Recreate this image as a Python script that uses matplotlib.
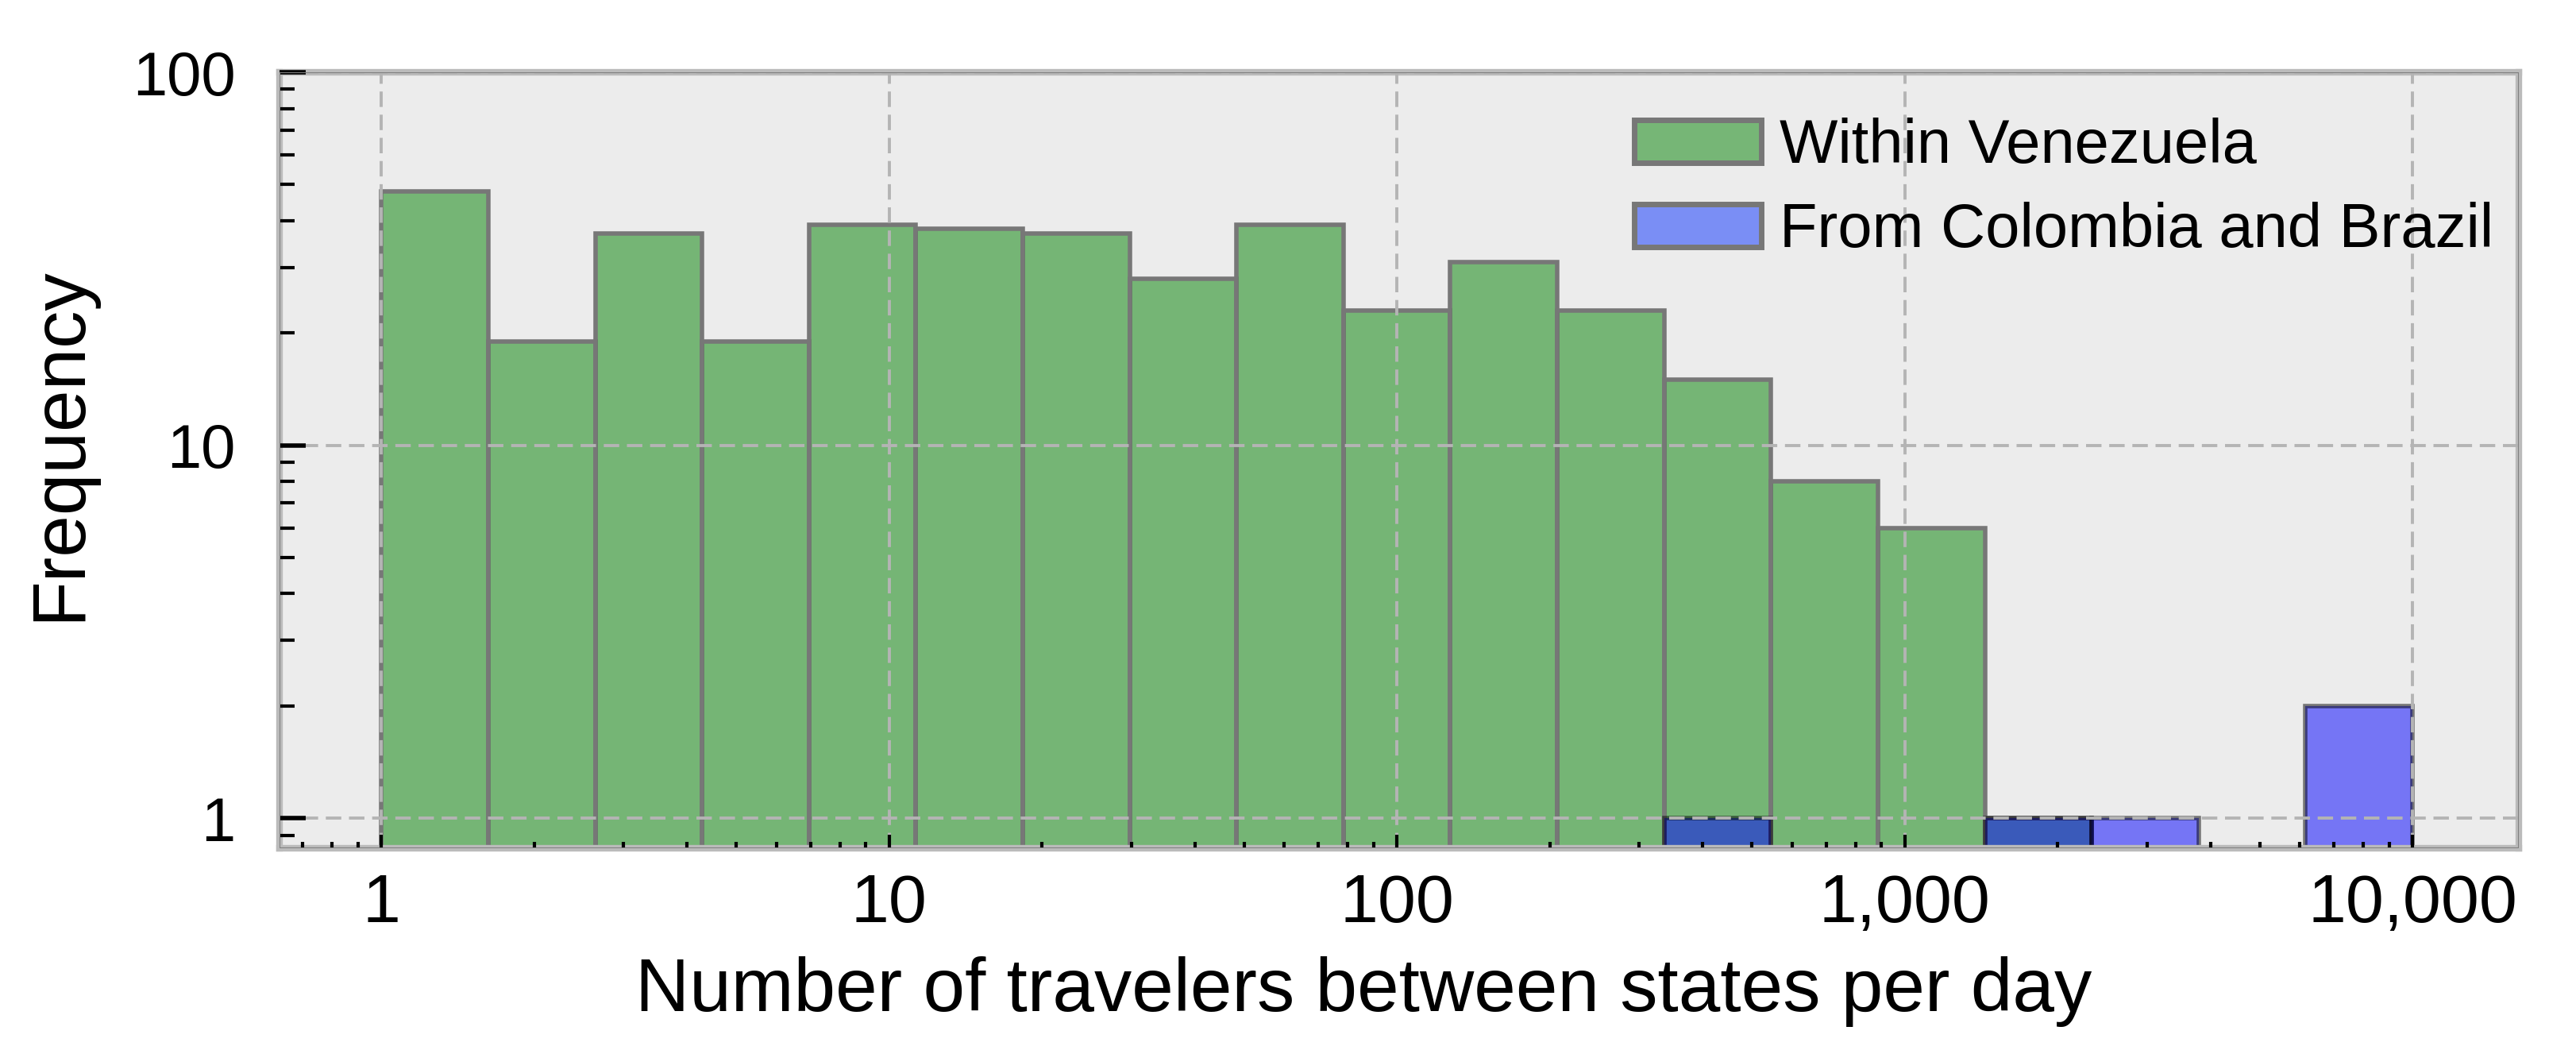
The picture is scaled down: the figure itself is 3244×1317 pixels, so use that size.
import numpy as np
import matplotlib
matplotlib.use("Agg")
import matplotlib.pyplot as plt
from matplotlib.ticker import FuncFormatter, LogLocator, NullFormatter
from matplotlib.patches import Rectangle

# histogram counts per log-spaced bin (19 bins from 1 to 10,000)
bin_edges = np.logspace(0, 4, 20)
within_counts = [48, 19, 37, 19, 39, 38, 37, 28, 39, 23, 31, 23, 15, 8, 6, 1, 0, 0, 0]
border_counts = [0, 0, 0, 0, 0, 0, 0, 0, 0, 0, 0, 0, 1, 0, 0, 1, 1, 0, 2]
labels = ["Within Venezuela", "From Colombia and Brazil"]
xticks = [1, 10, 100, 1000, 10000]
yticks = [1, 10, 100]

narrow = ["Liberation Sans Narrow", "Liberation Sans", "DejaVu Sans"]
wide = ["Liberation Sans", "DejaVu Sans"]

fig = plt.figure(figsize=(32.44, 13.17), dpi=100)
ax = fig.add_axes([0.1085, 0.189, 0.8693, 0.7419])
ax.set_facecolor("#ececec")

centers = np.sqrt(bin_edges[:-1] * bin_edges[1:])
ax.hist(centers, bins=bin_edges, weights=within_counts, facecolor=(0, 0.5, 0, 0.5),
        edgecolor="#777777", linewidth=4, label=labels[0], zorder=2)
ax.hist(centers, bins=bin_edges, weights=border_counts, facecolor=(0, 0, 1, 0.5),
        edgecolor=(0, 0, 0, 0.5), linewidth=4, label=labels[1], zorder=2)

ax.set_xscale("log")
ax.set_yscale("log")
ax.set_xlim(0.63, 16200)
ax.set_ylim(0.83, 100)

ax.set_xticks(xticks)
ax.set_yticks(yticks)
ax.xaxis.set_major_formatter(FuncFormatter(lambda v, p: f"{int(round(v)):,}"))
ax.yaxis.set_major_formatter(FuncFormatter(lambda v, p: f"{int(round(v))}"))
ax.xaxis.set_minor_locator(LogLocator(base=10, subs=np.arange(2, 10)))
ax.yaxis.set_minor_locator(LogLocator(base=10, subs=np.arange(2, 10)))
ax.xaxis.set_minor_formatter(NullFormatter())
ax.yaxis.set_minor_formatter(NullFormatter())

ax.tick_params(axis="x", which="major", direction="in", length=12, width=3,
               color="k", pad=22, bottom=True, top=False)
ax.tick_params(axis="x", which="minor", direction="in", length=6, width=3,
               color="k", bottom=True, top=False)
ax.tick_params(axis="y", which="major", direction="in", length=24, width=4,
               color="k", pad=40, left=True, right=False)
ax.tick_params(axis="y", which="minor", direction="in", length=14, width=3,
               color="k", left=True, right=False)
for t in ax.get_xticklabels():
    t.set_fontfamily(narrow)
    t.set_fontsize(62)
for t in ax.get_yticklabels():
    t.set_fontfamily(wide)
    t.set_fontsize(56)

ax.grid(True, which="major", color="#b4b4b4", linestyle=(0, (5, 2.5)), linewidth=2.8, zorder=3)
ax.set_axisbelow(False)

for s in ax.spines.values():
    s.set_color("#bbbbbb")
    s.set_linewidth(6)
ax.add_patch(Rectangle((0, 0), 1, 1, transform=ax.transAxes, fill=False,
                       edgecolor="#808080", linewidth=1.5, zorder=4))

ax.set_xlabel("Number of travelers between states per day", fontsize=68,
              fontfamily=narrow, labelpad=18)
ax.xaxis.label.set_x(0.484)
ax.set_ylabel("Frequency", fontsize=68, fontfamily=narrow)
ax.yaxis.set_label_coords(-0.082, 0.521)

leg = ax.legend(loc="upper right", bbox_to_anchor=(1.008, 0.997), frameon=False,
                prop={"family": narrow, "size": 56},
                handlelength=2.05, handleheight=0.7, handletextpad=0.3,
                labelspacing=0.42, borderaxespad=0.3)
for h in leg.legend_handles:
    h.set_linewidth(5)
    h.set_edgecolor("#777777")
    h.set_alpha(None)
leg.legend_handles[0].set_facecolor("#76b676")
leg.legend_handles[1].set_facecolor("#7a8ef5")

fig.savefig("out.png", dpi=100)
